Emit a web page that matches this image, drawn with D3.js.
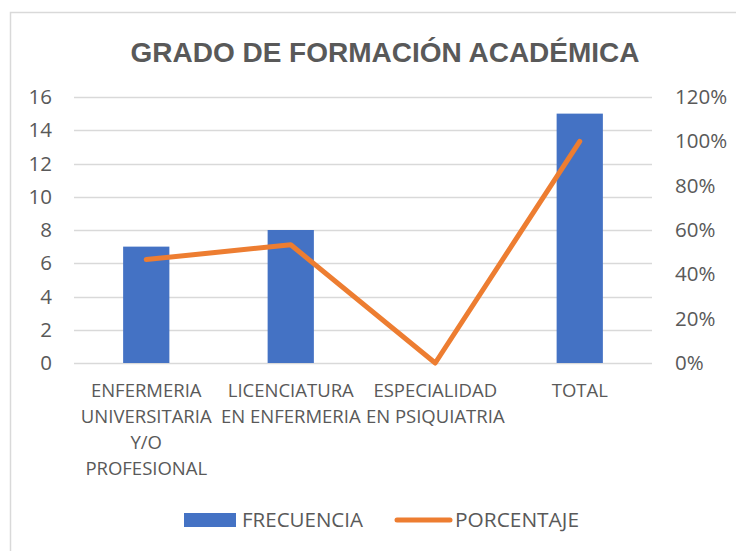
<!DOCTYPE html>
<html><head><meta charset="utf-8">
<script src="https://cdn.jsdelivr.net/npm/d3@7"></script>
<style>body{margin:0;background:#fff;} svg{display:block;}</style>
</head><body>
<svg id="c" width="736" height="551"></svg>
<script>
const title = "GRADO DE FORMACIÓN ACADÉMICA";
const categories = ["ENFERMERIA UNIVERSITARIA Y/O PROFESIONAL", "LICENCIATURA EN ENFERMERIA", "ESPECIALIDAD EN PSIQUIATRIA", "TOTAL"];
const categoryLines = [["ENFERMERIA","UNIVERSITARIA","Y/O","PROFESIONAL"],["LICENCIATURA","EN ENFERMERIA"],["ESPECIALIDAD","EN PSIQUIATRIA"],["TOTAL"]];
const frecuencia = [7, 8, 0, 15];
const porcentaje = [0.4667, 0.5333, 0, 1.0];
const leftTicks = [0, 2, 4, 6, 8, 10, 12, 14, 16];
const rightTicks = [0, 0.2, 0.4, 0.6, 0.8, 1.0, 1.2];
const seriesNames = ["FRECUENCIA", "PORCENTAJE"];

const svg = d3.select("#c");
const font = "'Open Sans', sans-serif";
const grey = "#595959";
const blue = "#4472C4", orange = "#ED7D31";

svg.append("rect").attr("x", 10.5).attr("y", 12.5).attr("width", 740).attr("height", 560)
  .attr("fill", "#fff").attr("stroke", "#d9d9d9").attr("stroke-width", 1.5);

const L = 74, R = 652, T = 97, B = 363;
const x = d3.scaleBand().domain(categories).range([L, R]);
const yL = d3.scaleLinear().domain([0, 16]).range([B, T]);
const yR = d3.scaleLinear().domain([0, 1.2]).range([B, T]);

// title
svg.append("text").attr("x", 385).attr("y", 62).attr("text-anchor", "middle")
  .attr("font-family", "'Liberation Sans', Arial, sans-serif").attr("font-weight", "bold")
  .attr("font-size", 28).attr("fill", grey)
  .attr("textLength", 509).attr("lengthAdjust", "spacingAndGlyphs").text(title);

// grid
svg.append("g").selectAll("line").data(leftTicks).join("line")
  .attr("x1", L).attr("x2", R).attr("y1", d => Math.round(yL(d)) + 0.5).attr("y2", d => Math.round(yL(d)) + 0.5)
  .attr("stroke", "#d9d9d9").attr("stroke-width", 1.5);

// left axis
const axL = svg.append("g").attr("transform", `translate(${L},0)`)
  .call(d3.axisLeft(yL).tickValues(leftTicks).tickSize(0).tickPadding(22));
axL.select(".domain").remove();
axL.selectAll("text").attr("font-family", font).attr("font-size", 20.5).attr("fill", grey);

// right axis
const axR = svg.append("g").attr("transform", `translate(${R},0)`)
  .call(d3.axisRight(yR).tickValues(rightTicks).tickFormat(d3.format(".0%")).tickSize(0).tickPadding(23));
axR.select(".domain").remove();
axR.selectAll("text").attr("font-family", font).attr("font-size", 20.5).attr("fill", grey);

// bars
const bw = x.bandwidth() * 0.32;
svg.append("g").selectAll("rect").data(categories).join("rect")
  .attr("x", (d) => x(d) + x.bandwidth() / 2 - bw / 2)
  .attr("width", bw)
  .attr("y", (d, i) => yL(frecuencia[i]))
  .attr("height", (d, i) => yL(0) - yL(frecuencia[i]))
  .attr("fill", blue);

// line
const line = d3.line().x((d, i) => x(categories[i]) + x.bandwidth() / 2).y(d => yR(d));
svg.append("path").datum(porcentaje).attr("d", line).attr("fill", "none")
  .attr("stroke", orange).attr("stroke-width", 5).attr("stroke-linecap", "round").attr("stroke-linejoin", "round");

// category labels
const cg = svg.append("g");
categories.forEach((c, i) => {
  const t = cg.append("text").attr("text-anchor", "middle").attr("font-family", font)
    .attr("font-size", 18.5).attr("fill", grey);
  categoryLines[i].forEach((ln, j) => {
    t.append("tspan").attr("x", x(c) + x.bandwidth() / 2).attr("y", 397 + j * 26).text(ln);
  });
});

// legend
const lg = svg.append("g");
lg.append("rect").attr("x", 184).attr("y", 513).attr("width", 52).attr("height", 14).attr("fill", blue);
lg.append("text").attr("x", 242).attr("y", 527).attr("font-family", font).attr("font-size", 19.5).attr("fill", grey)
  .attr("textLength", 121).attr("lengthAdjust", "spacingAndGlyphs").text(seriesNames[0]);
lg.append("line").attr("x1", 397).attr("x2", 450).attr("y1", 520).attr("y2", 520)
  .attr("stroke", orange).attr("stroke-width", 5).attr("stroke-linecap", "round");
lg.append("text").attr("x", 455).attr("y", 527).attr("font-family", font).attr("font-size", 19.5).attr("fill", grey)
  .attr("textLength", 124).attr("lengthAdjust", "spacingAndGlyphs").text(seriesNames[1]);
</script>
</body></html>
